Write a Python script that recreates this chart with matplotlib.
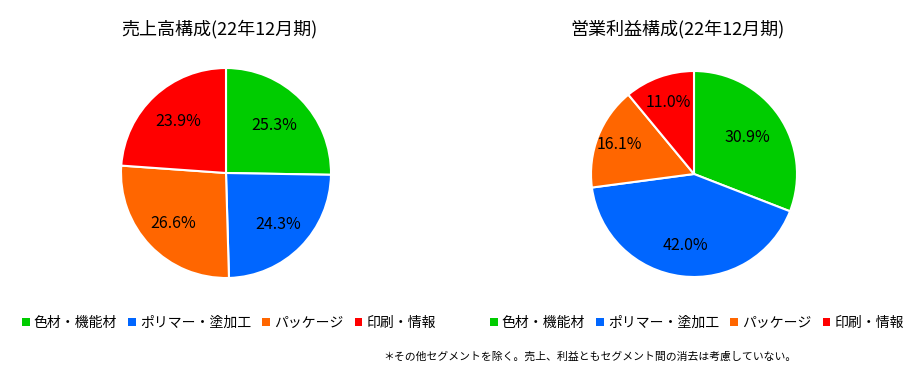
import matplotlib.pyplot as plt
from matplotlib.patches import Patch

plt.rcParams['font.family'] = ['Noto Sans CJK JP', 'DejaVu Sans']

segments = ['色材・機能材', 'ポリマー・塗加工', 'パッケージ', '印刷・情報']
colors = ['#00CC00', '#0066FF', '#FF6600', '#FF0000']
sales = [25.3, 24.3, 26.6, 23.9]
profit = [30.9, 42.0, 16.1, 11.0]

fig = plt.figure(figsize=(9.10, 3.76), dpi=100)


def draw_pie(cx, cy, r, values, title, title_x, dists):
    w = 2 * r / 910
    h = 2 * r / 376
    ax = fig.add_axes([cx / 910 - w / 2, 1 - cy / 376 - h / 2, w, h])
    _, _, autotexts = ax.pie(values, colors=colors, startangle=90, counterclock=False,
                             autopct='%.1f%%', pctdistance=0.6,
                             wedgeprops=dict(edgecolor='white', linewidth=1.5),
                             textprops=dict(fontsize=11.5, color='black'))
    # excel-like label placement: some labels sit further out
    for t, d in zip(autotexts, dists):
        x, y = t.get_position()
        t.set_position((x * d / 0.6, y * d / 0.6))
    ax.set_xlim(-1, 1)
    ax.set_ylim(-1, 1)
    ax.set_aspect('equal')
    fig.text(title_x / 910, 1 - 29 / 376, title, ha='center', va='center', fontsize=13)
    return ax


draw_pie(226, 173, 105, sales, '売上高構成(22年12月期)', 219, [0.65, 0.7, 0.7, 0.67])
draw_pie(694, 174, 103, profit, '営業利益構成(22年12月期)', 678, [0.63, 0.7, 0.78, 0.74])

handles = [Patch(facecolor=c, edgecolor='none') for c in colors]
for x in (229, 697):
    fig.legend(handles, segments, loc='center', bbox_to_anchor=(x / 910, 1 - 323 / 376),
               ncol=4, frameon=False, fontsize=10, handlelength=0.55, handleheight=0.55,
               handletextpad=0.3, columnspacing=0.8, borderpad=0, borderaxespad=0)

fig.text(383 / 910, 1 - 357 / 376,
         '＊その他セグメントを除く。売上、利益ともセグメント間の消去は考慮していない。',
         ha='left', va='center', fontsize=7.8)

fig.savefig('out.png', dpi=100)
